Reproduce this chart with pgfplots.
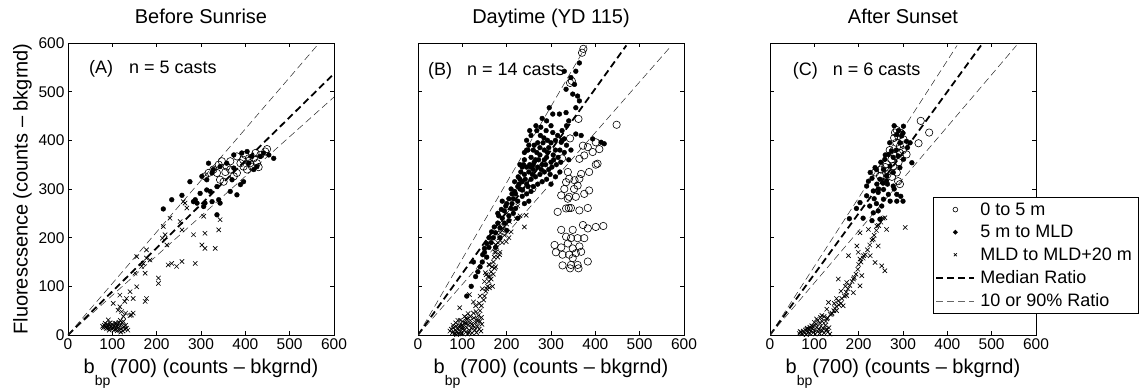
\documentclass[border=0pt]{standalone}
\usepackage{fontspec}
\setmainfont{Liberation Sans}
\usepackage{pgfplots}
\pgfplotsset{compat=1.18}
\tikzset{annot/.style={anchor=base west, inner sep=0pt, font=\fontsize{18}{20}\selectfont}}
\pgfplotsset{
 panel/.style={
  scale only axis, width=266pt, height=292pt,
  xmin=0,xmax=600,ymin=0,ymax=600,
  xtick={0,100,...,600}, ytick={0,100,...,600},
  tick align=inside, major tick length=4pt,
  axis line style={line width=0.8pt},
  every tick/.style={black, line width=0.6pt},
  /pgf/number format/assume math mode=true,
  tick label style={font=\fontsize{15.5}{17}\selectfont},
  label style={font=\fontsize{20}{22}\selectfont},
  title style={font=\fontsize{20}{22}\selectfont, at={(rel axis cs:0.5,1)}, anchor=base, yshift=14pt},
  xlabel={b\raisebox{-0.6em}{\fontsize{14}{14}\selectfont bp}(700) (counts -- bkgrnd)},
  xlabel style={at={(rel axis cs:0.5,0)}, anchor=base, yshift=-38pt},
  anchor=south west, clip=true,
 },
 circ/.style={only marks, mark=o, mark size=3.7pt, mark options={line width=0.6pt}, black,
   legend image code/.code={\draw[##1, mark size=2.4pt] plot coordinates {(19pt,0pt)};}},
 dot/.style={only marks, mark=*, mark size=2.4pt, black,
   legend image code/.code={\draw[##1, mark size=1.9pt] plot coordinates {(19pt,0pt)};}},
 crs/.style={only marks, mark=x, mark size=3.1pt, mark options={line width=0.65pt}, black,
   legend image code/.code={\draw[##1, mark size=2.1pt] plot coordinates {(19pt,0pt)};}},
 med/.style={no marks, black, line width=1.8pt, dash pattern=on 7pt off 4pt,
   legend image code/.code={\draw[##1, line width=1.8pt, dash pattern=on 7pt off 4pt] (0pt,0pt) -- (38pt,0pt);}},
 thn/.style={no marks, black!85, line width=0.5pt, dash pattern=on 7pt off 4pt,
   legend image code/.code={\draw[##1, black!60, line width=0.6pt, dash pattern=on 7pt off 4pt] (0pt,0pt) -- (38pt,0pt);}},
}

\begin{document}
\begin{tikzpicture}
%%%%%%%%%%%%%%%%%%%% Panel A
\begin{axis}[panel, at={(0pt,0pt)}, title={Before Sunrise},
  ylabel={Fluorescsence (counts -- bkgrnd)}]
\addplot[thn] coordinates {(0,0) (562,595)};
\addplot[med] coordinates {(0,0) (600,537)};
\addplot[thn] coordinates {(0,0) (600,489)};
\addplot[circ] table {
309 326
336 333
347 357
358 346
343 319
366 340
374 326
381 367
389 353
400 370
404 340
411 353
419 363
426 353
434 370
445 377
449 382
396 346
415 346
408 363
366 357
328 340
317 333
351 315
381 333
423 374
395 360
430 345
355 335
340 350
};
\addplot[dot] table {
215 259
234 278
257 287
275 315
283 274
287 278
306 264
317 353
328 340
313 298
321 295
336 305
340 278
325 274
336 247
343 271
366 295
381 288
389 309
396 315
392 374
404 377
415 367
426 346
441 374
453 370
464 363
374 370
358 353
343 346
325 333
302 326
313 319
298 291
370 319
309 271
291 271
419 340
434 367
408 353
374 343
};
\addplot[crs] table {
260 274
264 271
268 261
230 240
215 223
219 206
223 185
213 199
253 233
257 216
283 206
306 244
309 209
343 237
340 216
302 185
309 178
332 178
177 175
177 158
174 127
151 127
155 99
140 89
147 75
132 75
128 69
147 45
143 41
121 48
113 51
174 69
177 75
204 106
204 117
226 144
234 147
245 141
257 151
287 147
185 154
170 147
166 141
155 161
117 82
117 58
102 65
91 31
109 24
132 14
78 18
82 20
85 16
88 22
90 18
92 14
95 20
97 17
100 22
102 15
104 19
106 24
108 12
110 18
112 21
114 15
116 10
118 19
120 13
122 25
124 8
126 17
128 12
130 20
125 28
115 26
100 12
95 25
87 13
135 10
119 6
111 9
105 11
93 10
80 15
84 24
125 38
130 45
140 40
118 30
};
\node[annot] at (rel axis cs:0.079,0.897) {(A)\hspace{16pt}n = 5 casts};
\end{axis}
%%%%%%%%%%%%%%%%%%%% Panel B
\begin{axis}[panel, at={(350pt,0pt)}, title={Daytime (YD 115)}, yticklabels={}]
\addplot[thn] coordinates {(0,0) (380,595)};
\addplot[med] coordinates {(0,0) (470,595)};
\addplot[thn] coordinates {(0,0) (572,595)};
\addplot[circ] table {
373 588
370 580
343 518
347 522
362 444
448 432
343 404
372 389
383 386
401 396
409 382
394 376
325 363
364 362
375 369
401 350
405 352
386 335
368 331
364 321
338 335
341 321
353 318
334 314
360 307
386 297
375 290
323 287
341 284
356 284
338 280
340 261
345 261
334 260
315 253
364 256
383 261
323 216
349 216
372 226
383 219
401 222
418 224
334 202
345 199
360 199
375 199
308 185
323 180
338 188
349 178
364 182
311 170
326 165
341 165
356 168
368 171
383 151
326 143
345 144
343 137
360 144
362 137
349 158
258 301
352 300
330 300
};
\addplot[dot] table {
364 559
356 542
330 542
345 529
353 515
334 505
349 495
360 491
296 467
304 454
319 454
334 457
356 467
364 481
266 430
277 427
289 420
304 416
356 413
368 410
394 403
413 396
420 393
330 403
323 396
250 390
260 380
270 395
240 375
255 365
265 360
275 370
285 380
290 365
280 350
270 345
260 340
250 335
240 330
230 320
245 310
255 320
265 325
275 330
285 335
295 340
300 355
305 370
310 380
295 385
300 395
230 300
220 290
215 280
225 275
235 285
245 290
255 295
260 305
270 310
280 315
290 320
300 310
310 325
320 335
200 270
210 260
195 255
205 245
215 250
190 240
180 230
185 220
175 210
170 200
195 230
205 235
220 260
240 270
250 275
225 240
180 250
165 190
160 180
150 170
155 160
145 150
140 140
135 130
190 275
210 300
230 350
240 360
245 400
255 410
235 345
320 380
330 375
340 360
335 390
325 400
345 380
120 100
110 80
130 120
125 150
175 180
185 200
200 215
205 280
212 270
218 295
228 310
236 298
242 320
248 305
252 350
258 330
262 355
268 375
272 360
278 340
282 395
288 350
292 375
298 330
302 345
306 360
312 350
316 365
322 355
248 380
238 350
232 335
226 325
218 315
212 290
198 265
188 258
182 245
172 222
166 212
160 200
155 188
150 178
146 165
262 390
276 410
284 405
292 400
268 420
252 420
245 380
285 360
260 350
275 385
255 345
245 345
235 315
225 305
310 400
315 410
325 420
335 430
340 440
300 430
290 440
280 445
};
\addplot[crs] table {
72 8
75 12
78 5
80 15
82 3
84 10
86 18
88 6
90 12
92 2
94 20
96 8
98 14
100 4
102 18
104 10
106 25
108 6
110 15
112 2
114 22
116 9
118 30
120 14
122 4
124 20
126 35
128 10
130 26
132 5
134 18
136 40
138 12
140 28
142 8
144 22
100 28
110 32
118 38
95 30
105 38
125 45
131 48
140 50
85 25
90 30
113 44
103 14
97 2
87 1
121 22
127 16
133 32
79 20
115 5
109 24
99 20
93 16
143 36
135 28
143 60
148 72
150 80
153 90
155 95
157 100
160 110
162 120
165 130
167 140
170 150
172 160
175 170
178 180
180 190
183 200
186 210
190 215
195 222
200 228
165 115
158 120
168 100
170 125
175 140
180 160
185 170
175 185
190 190
160 145
150 110
152 128
145 95
140 80
138 65
130 60
125 68
116 83
94 56
109 35
161 97
154 124
169 199
199 192
176 185
173 171
184 165
161 144
173 137
191 219
210 212
221 239
244 246
240 222
206 233
200 250
215 255
225 265
230 245
190 235
185 225
178 210
195 205
205 200
};
\node[annot] at (rel axis cs:0.0375,0.890) {(B)\hspace{15pt}n = 14 casts};
\end{axis}
%%%%%%%%%%%%%%%%%%%% Panel C
\begin{axis}[panel, at={(702pt,0pt)}, title={After Sunset}, yticklabels={},
  legend style={at={(rel axis cs:0.613,0.473)}, anchor=north west, draw=black,
    line width=0.8pt, font=\fontsize{18}{20}\selectfont, inner xsep=2pt, inner ysep=1pt,
    nodes={inner ysep=4.3pt, inner xsep=5pt},
    /tikz/every even column/.append style={column sep=0pt}},
  legend cell align=left]
\addplot[circ] table {
340 440
359 416
335 394
286 421
282 416
289 409
301 402
293 388
308 371
282 368
274 361
263 351
237 334
248 327
286 334
289 316
293 310
267 337
278 347
301 391
293 374
270 380
285 395
295 415
280 405
260 345
250 340
290 355
300 380
275 325
265 330
};
\addlegendentry{0 to 5 m}
\addplot[dot] table {
301 429
286 412
297 409
308 398
316 395
320 354
301 361
293 344
278 334
263 327
248 320
241 310
222 316
218 306
233 296
244 293
256 279
271 275
286 275
267 289
286 289
252 265
244 255
248 238
233 251
218 286
203 272
179 239
226 334
274 378
278 365
289 368
271 347
256 340
237 344
259 361
293 395
267 371
263 317
278 306
256 299
290 420
280 430
300 415
310 385
285 380
270 395
260 370
250 355
240 340
230 322
265 310
280 300
295 285
300 275
245 300
255 312
235 280
225 265
240 270
230 235
210 240
195 260
};
\addlegendentry{5 m to MLD}
\addplot[crs] table {
305 221
259 241
263 217
241 224
222 217
233 197
244 183
203 210
196 183
199 170
203 156
211 163
226 163
237 149
252 142
259 132
177 163
154 115
173 108
188 115
207 122
203 101
188 87
173 81
154 70
165 60
150 50
132 67
128 53
117 40
105 33
128 33
139 43
94 19
83 12
68 7
113 9
128 12
66 3
70 6
72 2
75 8
78 4
80 10
82 1
85 6
88 12
90 3
92 8
95 14
98 5
100 10
102 2
105 16
108 7
110 12
112 3
115 18
118 9
120 14
122 4
125 20
128 10
130 6
133 15
135 2
96 18
104 22
112 25
118 28
90 16
84 14
126 28
100 26
108 30
114 36
122 38
130 35
136 42
140 45
144 50
146 55
150 58
155 62
160 65
162 75
168 80
172 88
176 95
180 102
185 110
190 118
194 125
198 135
200 145
205 150
210 158
215 165
220 175
225 185
230 195
235 205
240 215
245 225
250 232
255 240
160 90
170 100
150 75
145 65
};
\addlegendentry{MLD to MLD+20 m\hspace{4pt}}
\addplot[med] coordinates {(0,0) (476,595)};
\addlegendentry{Median Ratio}
\addplot[thn] coordinates {(0,0) (422,595)};
\addlegendentry{10 or 90\% Ratio}
\addplot[thn, forget plot] coordinates {(0,0) (556,595)};
\node[annot] at (rel axis cs:0.085,0.890) {(C)\hspace{15pt}n = 6 casts};
\end{axis}
\pgfresetboundingbox
\useasboundingbox (-68pt,-54pt) rectangle (1076pt,335pt);
\end{tikzpicture}
\end{document}
